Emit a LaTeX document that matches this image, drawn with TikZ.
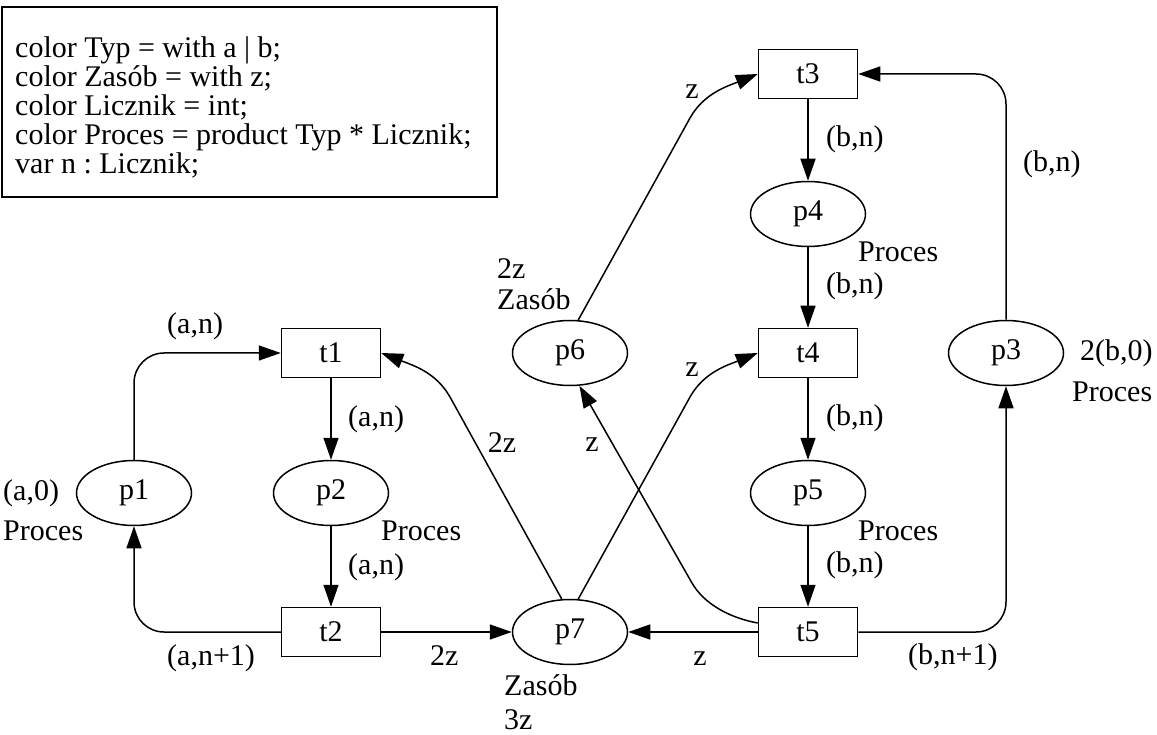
\documentclass[tikz,border=0pt]{standalone}
\usepackage{fontspec}
\setmainfont{Liberation Serif}
\usetikzlibrary{arrows.meta,shapes.geometric}
\frenchspacing
\begin{document}
\begin{tikzpicture}[x=1pt,y=-1pt,
  font=\fontsize{30}{29}\selectfont,
  place/.style={draw, ellipse, line width=1.5pt, minimum width=115pt, minimum height=65pt, inner sep=0pt},
  trans/.style={draw, rectangle, line width=1.5pt, minimum width=99pt, minimum height=49pt, inner sep=0pt},
  arc/.style={line width=1.5pt, -{Triangle[length=22pt,width=15pt]}},
  lab/.style={inner sep=0pt, text height=20pt, text depth=6pt, anchor=west},
  clab/.style={inner sep=0pt, text height=20pt, text depth=6pt},
  declbox/.style={draw, line width=1.2pt, minimum width=495pt, minimum height=190pt, inner sep=0pt}]
\useasboundingbox (0,0) rectangle (1157,735);

% declarations
\node[declbox] (decl) at (249.5,102) {};
\node[anchor=west, inner sep=0pt, align=left] (decltext) at (15,107)
  {color Typ = with a | b;\\
   color Zasób = with z;\\
   color Licznik = int;\\
   color Proces = product Typ * Licznik;\\
   var n : Licznik;};

% places
\node[place] (p1) at (134,493) {p1};
\node[place] (p2) at (331,493) {p2};
\node[place] (p3) at (1006,353) {p3};
\node[place] (p4) at (808,214) {p4};
\node[place] (p5) at (808,493) {p5};
\node[place] (p6) at (570,353) {p6};
\node[place] (p7) at (570,632) {p7};

% transitions
\node[trans] (t1) at (331,353) {t1};
\node[trans] (t2) at (331,632) {t2};
\node[trans] (t3) at (808,74) {t3};
\node[trans] (t4) at (808,353) {t4};
\node[trans] (t5) at (808,632) {t5};

% arcs
\draw[arc, rounded corners=30pt] (p1) |- (t1);
\draw[arc, rounded corners=30pt] (t2) -| (p1);
\draw[arc] (t1) -- (p2);
\draw[arc] (p2) -- (t2);
\draw[arc] (t2) -- (p7);
\draw[arc] (t5) -- (p7);
\draw[arc] (t3) -- (p4);
\draw[arc] (p4) -- (t4);
\draw[arc] (t4) -- (p5);
\draw[arc] (p5) -- (t5);
\draw[arc, rounded corners=30pt] (t5) -| (p3);
\draw[arc, rounded corners=30pt] (p3) |- (t3);
\draw[arc] (p7.104) -- (450,397) .. controls (436,372) and (412,365) .. (t1.east);
\draw[arc] (p7.76) -- (690,397) .. controls (704,372) and (728,365) .. (t4.west);
\draw[arc] (p6.76) -- (690,118) .. controls (704,93) and (728,86) .. (t3.west);
\draw[arc] ([yshift=9pt]t5.west) .. controls (730,618) and (704,604) .. (692,583) -- (p6.-74);

% inscriptions
\node[lab] (l1) at (167,327) {(a,n)};
\node[lab] (l2) at (348,419) {(a,n)};
\node[lab] (l3) at (3,493) {(a,0)};
\node[lab] (l4) at (3,533) {Proces};
\node[lab] (l5) at (381,533) {Proces};
\node[lab] (l6) at (348,567) {(a,n)};
\node[lab] (l7) at (167,658) {(a,n+1)};
\node[lab] (l8) at (430,658) {2z};
\node[clab] (l9) at (502,445) {2z};
\node[clab] (l10) at (592,444) {z};
\node[clab] (l11) at (692,370) {z};
\node[clab] (l12) at (700,658) {z};
\node[lab] (l13) at (504,688) {Zasób};
\node[lab] (l14) at (504,722) {3z};
\node[lab] (l15) at (497,272) {2z};
\node[lab] (l16) at (497,303) {Zasób};
\node[clab] (l17) at (692,92) {z};
\node[lab] (l18) at (826,140) {(b,n)};
\node[lab] (l19) at (1023,165) {(b,n)};
\node[lab] (l20) at (858,255) {Proces};
\node[lab] (l21) at (826,287) {(b,n)};
\node[lab] (l22) at (1080,353) {2(b,0)};
\node[lab] (l23) at (1072,395) {Proces};
\node[lab] (l24) at (826,418) {(b,n)};
\node[lab] (l25) at (858,533) {Proces};
\node[lab] (l26) at (826,565) {(b,n)};
\node[lab] (l27) at (908,657) {(b,n+1)};
\end{tikzpicture}
\end{document}
